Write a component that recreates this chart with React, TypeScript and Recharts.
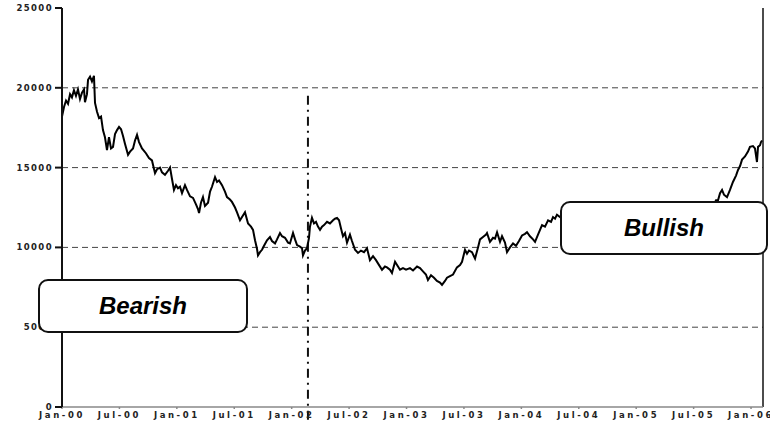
import { LineChart, Line, XAxis, YAxis, ReferenceLine } from "recharts";

// months since Jan-00
const months = [
  0.0, 0.21, 0.42, 0.63, 0.84, 1.04, 1.25, 1.46, 1.67, 1.88, 2.09, 2.3, 2.4, 2.61, 2.72, 2.93, 3.13, 3.34, 3.45, 3.66,
  3.87, 4.08, 4.28, 4.49, 4.7, 4.91, 5.12, 5.33, 5.54, 5.75, 5.96, 6.17, 6.37, 6.58, 6.9, 7.11, 7.42, 7.63, 7.84, 8.05,
  8.36, 8.57, 8.77, 9.09, 9.4, 9.72, 9.93, 10.24, 10.45, 10.76, 11.08, 11.29, 11.49, 11.7, 11.91, 12.12, 12.33, 12.54,
  12.85, 13.06, 13.38, 13.69, 14.0, 14.21, 14.32, 14.52, 14.73, 14.94, 15.26, 15.47, 15.67, 15.99, 16.2, 16.41, 16.72,
  17.03, 17.24, 17.55, 17.76, 18.08, 18.29, 18.6, 18.91, 19.12, 19.44, 19.75, 19.96, 20.17, 20.38, 20.48, 20.69, 20.9,
  21.11, 21.42, 21.73, 21.94, 22.26, 22.47, 22.78, 22.99, 23.3, 23.62, 23.82, 24.14, 24.35, 24.56, 24.87, 25.08, 25.18,
  25.39, 25.6, 25.81, 25.91, 26.12, 26.33, 26.54, 26.75, 26.96, 27.17, 27.38, 27.69, 28.0, 28.32, 28.53, 28.74, 28.95,
  29.15, 29.36, 29.57, 29.78, 30.09, 30.3, 30.62, 30.93, 31.24, 31.56, 31.87, 32.18, 32.5, 32.81, 33.02, 33.44, 33.75,
  33.96, 34.27, 34.48, 34.8, 35.11, 35.32, 35.63, 35.95, 36.36, 36.68, 37.1, 37.41, 37.72, 38.03, 38.24, 38.56, 38.87,
  39.18, 39.5, 39.71, 40.02, 40.23, 40.54, 40.86, 41.27, 41.59, 41.8, 42.11, 42.32, 42.53, 42.84, 43.16, 43.47, 43.68,
  43.99, 44.31, 44.41, 44.72, 45.04, 45.25, 45.46, 45.77, 45.98, 46.29, 46.5, 46.81, 47.13, 47.44, 47.75, 48.07, 48.38,
  48.59, 48.9, 49.22, 49.43, 49.74, 49.95, 50.16, 50.47, 50.79, 51.1, 51.31, 51.52, 51.72, 52.04, 52.56, 53.08, 53.61,
  54.13, 54.65, 55.17, 55.7, 56.22, 56.74, 57.26, 57.78, 58.31, 58.83, 59.35, 59.87, 60.4, 60.92, 61.44, 61.96, 62.49,
  63.01, 63.53, 64.05, 64.58, 65.1, 65.62, 66.14, 66.67, 67.19, 67.71, 68.13, 68.34, 68.55, 68.76, 68.97, 69.17, 69.49,
  69.8, 70.11, 70.43, 70.64, 70.85, 71.06, 71.37, 71.68, 71.89, 72.2, 72.41, 72.62, 72.73, 72.94, 73.04, 73.15,
];

const values = [
  18200, 18800, 19200, 19000, 19600, 19400, 19850, 19500, 19900, 19300, 19700, 19900, 19100, 19600, 20500, 20700, 20400,
  20750, 19050, 18500, 18100, 18200, 17350, 16900, 16100, 16900, 16200, 16300, 17100, 17350, 17550, 17400, 17000, 16500,
  15800, 16000, 16200, 16700, 17050, 16600, 16200, 16050, 15900, 15600, 15450, 14650, 14900, 15000, 14700, 14550, 14800,
  15000, 14300, 13600, 13900, 13700, 13800, 13400, 13900, 13600, 13200, 13100, 12700, 12400, 12150, 12800, 13150, 12600,
  12800, 13500, 13800, 14400, 14100, 14200, 13900, 13500, 13150, 13000, 12850, 12500, 12200, 11700, 12000, 12200, 11500,
  11300, 11100, 10450, 9900, 9500, 9700, 9850, 10100, 10450, 10650, 10400, 10250, 10500, 10900, 10700, 10600, 10300,
  10250, 10900, 10500, 10150, 10050, 9950, 9500, 9800, 9950, 10600, 11300, 11850, 11500, 11600, 11300, 11100, 11300,
  11400, 11600, 11500, 11700, 11800, 11850, 11700, 11200, 10700, 10900, 10300, 10800, 10400, 9850, 9650, 9800, 9700,
  9950, 9200, 9450, 9200, 9000, 8600, 8800, 8750, 8600, 8400, 9100, 8800, 8600, 8700, 8600, 8700, 8550, 8800, 8700,
  8500, 8300, 7950, 8250, 8100, 7900, 7800, 7650, 7900, 8100, 8200, 8300, 8750, 8900, 9100, 9850, 9600, 9800, 9700,
  9300, 10000, 10500, 10650, 10800, 10900, 10350, 10600, 10550, 10950, 10350, 10700, 10300, 9700, 10000, 10250, 10100,
  10400, 10750, 10850, 10950, 10700, 10500, 10350, 10800, 11100, 11400, 11300, 11700, 11600, 11900, 11800, 12050, 11900,
  12100, 11800, 12200, 12400, 12100, 12300, 12000, 12300, 12500, 12200, 12400, 12600, 12300, 12100, 12400, 12500, 12300,
  12200, 12400, 12600, 12400, 12200, 12500, 12300, 12400, 12200, 12300, 12100, 12350, 12500, 12700, 12950, 12950, 13400,
  13600, 13300, 13150, 13600, 14100, 14500, 14850, 15100, 15500, 15700, 16000, 16300, 16350, 16200, 15350, 16300, 16400,
  16600, 16700,
];

const xTicks = [0, 6, 12, 18, 24, 30, 36, 42, 48, 54, 60, 66, 72];
const xTickLabels = [
  "Jan-00", "Jul-00", "Jan-01", "Jul-01", "Jan-02", "Jul-02", "Jan-03",
  "Jul-03", "Jan-04", "Jul-04", "Jan-05", "Jul-05", "Jan-06",
];
const yTicks = [0, 5000, 10000, 15000, 20000, 25000];
const gridValues = [5000, 10000, 15000, 20000];
const xMax = 73.25;
const eventMonth = 25.7;

const data = months.map((m, i) => ({ m, v: values[i] }));

const yTickStyle = {
  fontFamily: "DejaVu Sans",
  fontWeight: 700,
  fontSize: 8.5,
  letterSpacing: 1.4,
  fill: "#222",
};

const xTickStyle = { ...yTickStyle, letterSpacing: 2.6 };

const boxStyle: React.CSSProperties = {
  position: "absolute",
  boxSizing: "border-box",
  border: "2px solid #111",
  borderRadius: 10,
  background: "#fff",
  display: "flex",
  alignItems: "center",
  justifyContent: "center",
  fontFamily: "Liberation Sans",
  fontWeight: 700,
  fontStyle: "italic",
  fontSize: 24,
  color: "#000",
};

export default function App() {
  return (
    <div style={{ position: "absolute", left: 0, top: 0, width: 770, height: 421, background: "#fff" }}>
      <LineChart width={770} height={421} data={data} margin={{ top: 8, right: 7, bottom: 0, left: 6 }}>
        {gridValues.map((g) => (
          <ReferenceLine key={g} y={g} stroke="#444" strokeDasharray="6 4" strokeWidth={1} />
        ))}
        <XAxis
          dataKey="m"
          type="number"
          domain={[0, xMax]}
          ticks={xTicks}
          tickFormatter={(t: number) => xTickLabels[xTicks.indexOf(t)]}
          height={14}
          tickSize={2}
          tickMargin={3}
          stroke="#888"
          strokeWidth={1.5}
          tick={xTickStyle}
          interval={0}
        />
        <YAxis
          type="number"
          domain={[0, 25000]}
          ticks={yTicks}
          width={56}
          tickSize={7}
          tickMargin={2}
          stroke="#111"
          strokeWidth={2}
          tick={yTickStyle}
          interval={0}
        />
        <ReferenceLine x={xMax} stroke="#111" strokeWidth={1.5} />
        <ReferenceLine
          segment={[
            { x: eventMonth, y: 19500 },
            { x: eventMonth, y: -900 },
          ]}
          ifOverflow="visible"
          stroke="#111"
          strokeWidth={2}
          strokeDasharray="9 5 2 5"
        />
        <Line
          type="linear"
          dataKey="v"
          stroke="#000"
          strokeWidth={2}
          dot={false}
          isAnimationActive={false}
        />
      </LineChart>
      <div style={{ ...boxStyle, left: 38, top: 279, width: 210, height: 54 }}>Bearish</div>
      <div style={{ ...boxStyle, left: 560, top: 201, width: 208, height: 54 }}>Bullish</div>
    </div>
  );
}
